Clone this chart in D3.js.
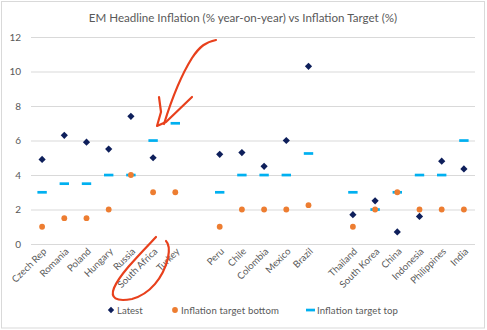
<!DOCTYPE html>
<html>
<head>
<meta charset="utf-8">
<script src="https://cdn.jsdelivr.net/npm/d3@7"></script>
<style>
  body { margin: 0; background: #fff; }
  text { font-family: Lato, "Open Sans", sans-serif; fill: #595959; }
</style>
</head>
<body>
<div id="chart"></div>
<script>
const width = 487;
const height = 330;

// blank entries are the gaps between regions
const countries = ['Czech Rep', 'Romania', 'Poland', 'Hungary', 'Russia', 'South Africa', 'Turkey', '',
    'Peru', 'Chile', 'Colombia', 'Mexico', 'Brazil', ' ',
    'Thailand', 'South Korea', 'China', 'Indonesia', 'Philippines', 'India'];
const latest = [4.9, 6.3, 5.9, 5.5, 7.4, 5.0, null, null,
    5.2, 5.3, 4.5, 6.0, 10.3, null,
    1.7, 2.5, 0.7, 1.6, 4.8, 4.35];
const targetBottom = [1, 1.5, 1.5, 2, 4, 3, 3, null,
    1, 2, 2, 2, 2.25, null,
    1, 2, 3, 2, 2, 2];
const targetTop = [3, 3.5, 3.5, 4, 4, 6, 7, null,
    3, 4, 4, 4, 5.25, null,
    3, 2, 3, 4, 4, 6];
const yTicks = [0, 2, 4, 6, 8, 10, 12];

const margin = { top: 37, right: 12, bottom: 86, left: 31 };

const svg = d3
    .select('#chart')
    .append('svg')
    .attr('width', width)
    .attr('height', height);

// chart border
svg.append('rect')
    .attr('x', 1.5).attr('y', 1.5)
    .attr('width', width - 4).attr('height', height - 3.5)
    .attr('fill', 'none')
    .attr('stroke', '#d9d9d9');

svg.append('text')
    .attr('x', 243)
    .attr('y', 22)
    .attr('text-anchor', 'middle')
    .style('font-size', '11.6px')
    .text('EM Headline Inflation (% year-on-year) vs Inflation Target (%)');

const xScale = d3.scaleBand()
    .domain(countries)
    .range([margin.left, width - margin.right]);

const yScale = d3.scaleLinear()
    .domain([0, 12])
    .range([height - margin.bottom, margin.top]);

// gridlines
svg.append('g')
    .attr('class', 'gridlines')
    .attr('transform', `translate(${margin.left}, 0)`)
    .call(d3.axisLeft(yScale).tickValues(yTicks).tickFormat('').tickSize(-(width - margin.left - margin.right)))
    .call(g => g.select('.domain').remove())
    .call(g => g.selectAll('line').attr('stroke', '#d9d9d9'));

// y labels
svg.append('g')
    .attr('class', 'y-axis')
    .attr('transform', `translate(${margin.left}, 0)`)
    .call(d3.axisLeft(yScale).tickValues(yTicks).tickSize(0).tickPadding(10))
    .call(g => g.select('.domain').remove())
    .call(g => g.selectAll('text').style('font-size', '10px').attr('fill', '#595959'));

// x labels
svg.append('g')
    .attr('class', 'x-axis')
    .selectAll('text')
    .data(countries)
    .join('text')
    .attr('text-anchor', 'end')
    .attr('transform', d => `translate(${xScale(d) + xScale.bandwidth() / 2 + 5}, ${yScale(0) + 8}) rotate(-45)`)
    .style('font-size', '9.6px')
    .text(d => d.trim());

const cx = (i) => xScale(countries[i]) + xScale.bandwidth() / 2;

// inflation target top
svg.append('g')
    .selectAll('rect')
    .data(targetTop.map((v, i) => [v, i]).filter(d => d[0] != null))
    .join('rect')
    .attr('x', d => cx(d[1]) - 4.7)
    .attr('y', d => yScale(d[0]) - 1.3)
    .attr('width', 9.4)
    .attr('height', 2.7)
    .attr('fill', '#00b0f0');

// inflation target bottom
svg.append('g')
    .selectAll('circle')
    .data(targetBottom.map((v, i) => [v, i]).filter(d => d[0] != null))
    .join('circle')
    .attr('cx', d => cx(d[1]))
    .attr('cy', d => yScale(d[0]))
    .attr('r', 2.9)
    .attr('fill', '#ed7d31');

// latest
const diamond = d3.symbol(d3.symbolSquare, 26);
svg.append('g')
    .selectAll('path')
    .data(latest.map((v, i) => [v, i]).filter(d => d[0] != null))
    .join('path')
    .attr('d', diamond)
    .attr('transform', d => `translate(${cx(d[1])}, ${yScale(d[0])}) rotate(45)`)
    .attr('fill', '#0e1f5b');

// legend
const legend = svg.append('g').attr('transform', 'translate(0, 310)');
legend.append('path')
    .attr('d', d3.symbol(d3.symbolSquare, 20))
    .attr('transform', 'translate(111, 0) rotate(45)')
    .attr('fill', '#0e1f5b');
legend.append('text').attr('x', 117).attr('y', 3.5).style('font-size', '9.6px').text('Latest');
legend.append('circle').attr('cx', 175).attr('cy', 0).attr('r', 2.9).attr('fill', '#ed7d31');
legend.append('text').attr('x', 181).attr('y', 3.5).style('font-size', '9.6px')
    .attr('textLength', 98).text('Inflation target bottom');
legend.append('rect').attr('x', 306).attr('y', -1.3).attr('width', 9).attr('height', 2.7).attr('fill', '#00b0f0');
legend.append('text').attr('x', 317).attr('y', 3.5).style('font-size', '9.6px')
    .attr('textLength', 81).text('Inflation target top');

// hand-drawn red annotations
const pen = svg.append('g')
    .attr('fill', 'none')
    .attr('stroke', '#e8401c')
    .attr('stroke-width', 2.2)
    .attr('stroke-linecap', 'round')
    .attr('stroke-linejoin', 'round');
pen.append('path')
    .attr('d', 'M216,40 C206,42 200,46 192,58 C182,74 172,98 164,124');
pen.append('path')
    .attr('d', 'M159,97 L161,112 L157,126 L166,122 L192,97');
pen.append('path')
    .attr('d', 'M156,237 C138,256 120,274 114,288 C110,298 116,302 132,299 C150,294 163,278 168,258 C170,248 168,243 166,241');
</script>
</body>
</html>
